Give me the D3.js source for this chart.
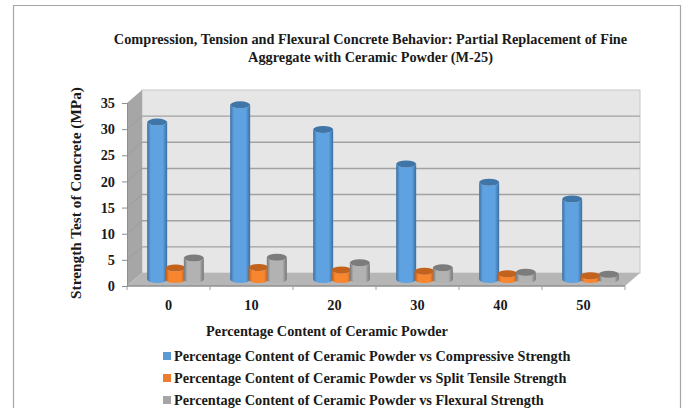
<!DOCTYPE html>
<html>
<head>
<meta charset="utf-8">
<script src="https://cdn.jsdelivr.net/npm/d3@7"></script>
<style>
html, body { margin: 0; padding: 0; background: #fff; }
svg { display: block; }
text { font-family: "Liberation Serif", serif; font-weight: bold; fill: #1a1a1a; }
</style>
</head>
<body>
<div id="chart"></div>
<script>
var categories = [ "0", "10", "20", "30", "40", "50" ];
var compressive = [ 30.1, 33.4, 28.7, 22.1, 18.6, 15.4 ];
var splitTensile = [ 2.2, 2.3, 1.8, 1.6, 1.1, 0.7 ];
var flexural = [ 4.1, 4.25, 3.2, 2.25, 1.4, 1.0 ];
var yTicks = [ 0, 5, 10, 15, 20, 25, 30, 35 ];
var seriesNames = [
	"Percentage Content of Ceramic Powder vs Compressive Strength",
	"Percentage Content of Ceramic Powder vs Split Tensile Strength",
	"Percentage Content of Ceramic Powder vs Flexural Strength"
];
var titleLines = [
	"Compression, Tension and Flexural Concrete Behavior: Partial Replacement of Fine",
	"Aggregate with Ceramic Powder (M-25)"
];
var xTitle = "Percentage Content of Ceramic Powder";
var yTitle = "Strength Test of Concrete (MPa)";

var colors = [
	{ light: "#5ea2e2", mid: "#5b9bd5", dark: "#3b6f9f", top: "#3f75a8" },
	{ light: "#f8862f", mid: "#ed7d31", dark: "#b9581a", top: "#c2621f" },
	{ light: "#b2b2b2", mid: "#a5a5a5", dark: "#757575", top: "#7c7c7c" }
];

var width = 685, height = 408;
// depth offset of the back wall
var depthX = 15, depthY = -13;

var svg = d3.select( "#chart" )
	.append( "svg" )
	.attr( "width", width )
	.attr( "height", height );

var defs = svg.append( "defs" );
colors.forEach( function( c, i ) {
	var grad = defs.append( "linearGradient" ).attr( "id", "cyl" + i );
	grad.append( "stop" ).attr( "offset", "0%" ).attr( "stop-color", c.dark );
	grad.append( "stop" ).attr( "offset", "18%" ).attr( "stop-color", c.light );
	grad.append( "stop" ).attr( "offset", "78%" ).attr( "stop-color", c.light );
	grad.append( "stop" ).attr( "offset", "100%" ).attr( "stop-color", c.dark );
} );
defs.append( "filter" )
	.attr( "id", "soft" )
	.append( "feGaussianBlur" )
	.attr( "stdDeviation", 0.4 );

// chart frame, open at the bottom
svg.append( "path" )
	.attr( "d", "M13.5,408V5.5H680.5V408" )
	.attr( "fill", "none" )
	.attr( "stroke", "#a6a6a6" )
	.attr( "stroke-width", 1.2 );

var x = d3.scaleBand()
	.domain( categories )
	.range( [ 127, 625 ] );

var inner = d3.scaleBand()
	.domain( [ 0, 1, 2 ] )
	.range( [ -27.5, 27.5 ] );

var y = d3.scaleLinear()
	.domain( [ 0, 35 ] )
	.range( [ 286, 103 ] );

// back wall
var backLeft = x.range()[ 0 ] + depthX, backRight = x.range()[ 1 ] + depthX;
svg.append( "rect" )
	.attr( "x", backLeft )
	.attr( "y", y( 35 ) + depthY )
	.attr( "width", backRight - backLeft )
	.attr( "height", y( 0 ) - y( 35 ) )
	.attr( "fill", "#e6e6e6" )
	.attr( "stroke", "#c8c8c8" );

// side wall
svg.append( "path" )
	.attr( "d", "M" + x.range()[ 0 ] + "," + y( 0 ) + "L" + x.range()[ 0 ] + "," + y( 35 ) +
		"L" + backLeft + "," + ( y( 35 ) + depthY ) + "L" + backLeft + "," + ( y( 0 ) + depthY ) + "Z" )
	.attr( "fill", "#a6a6a6" );

// floor
svg.append( "path" )
	.attr( "d", "M" + x.range()[ 0 ] + "," + y( 0 ) + "L" + backLeft + "," + ( y( 0 ) + depthY ) +
		"L" + backRight + "," + ( y( 0 ) + depthY ) + "L" + x.range()[ 1 ] + "," + y( 0 ) + "Z" )
	.attr( "fill", "#b6b6b6" );

// gridlines on back wall
svg.selectAll( ".grid" )
	.data( yTicks.slice( 1, -1 ) )
	.enter()
	.append( "line" )
	.attr( "class", "grid" )
	.attr( "x1", backLeft )
	.attr( "x2", backRight )
	.attr( "y1", function( d ) { return y( d ) + depthY; } )
	.attr( "y2", function( d ) { return y( d ) + depthY; } )
	.attr( "stroke", "#a2a2a2" )
	.attr( "stroke-width", 1.4 );

// diagonal grid edges on the side wall
svg.selectAll( ".sideGrid" )
	.data( yTicks.slice( 1, -1 ) )
	.enter()
	.append( "line" )
	.attr( "class", "sideGrid" )
	.attr( "x1", x.range()[ 0 ] )
	.attr( "x2", backLeft )
	.attr( "y1", function( d ) { return y( d ); } )
	.attr( "y2", function( d ) { return y( d ) + depthY; } )
	.attr( "stroke", "#9c9c9c" );

// floor front edge
svg.append( "line" )
	.attr( "x1", x.range()[ 0 ] )
	.attr( "x2", x.range()[ 1 ] )
	.attr( "y1", y( 0 ) )
	.attr( "y2", y( 0 ) )
	.attr( "stroke", "#8f8f8f" )
	.attr( "stroke-width", 1.5 );

// axes
var xAxis = d3.axisBottom( x ).tickSize( 0 ).tickPadding( 14 );
var gx = svg.append( "g" )
	.attr( "transform", "translate(0," + y( 0 ) + ")" )
	.call( xAxis );
gx.select( ".domain" ).remove();
gx.selectAll( "text" ).style( "font-size", "14.3px" );

svg.selectAll( ".xTick" )
	.data( x.domain().map( function( d ) { return x( d ); } ).concat( x.range()[ 1 ] ) )
	.enter()
	.append( "line" )
	.attr( "class", "xTick" )
	.attr( "x1", function( d ) { return d; } )
	.attr( "x2", function( d ) { return d; } )
	.attr( "y1", y( 0 ) )
	.attr( "y2", y( 0 ) + 4 )
	.attr( "stroke", "#a0a0a0" );

var yAxis = d3.axisLeft( y ).tickValues( yTicks ).tickSize( 5 ).tickPadding( 7 );
var gy = svg.append( "g" )
	.attr( "transform", "translate(" + x.range()[ 0 ] + ",0)" )
	.call( yAxis );
gy.select( ".domain" ).attr( "stroke", "#8f8f8f" );
gy.selectAll( "line" ).attr( "stroke", "#8f8f8f" );
gy.selectAll( "text" ).style( "font-size", "14.3px" );

// cylinders
var rx = 10, ry = 3.5;
var baseShift = { x: 7, y: -6.5 };

function cylinder ( d ) {
	var bottom = y( 0 ) + baseShift.y, top = y( d.value ) + baseShift.y;
	return "M" + ( d.cx - rx ) + "," + top +
		"L" + ( d.cx - rx ) + "," + bottom +
		"A" + rx + "," + ry + " 0 0 0 " + ( d.cx + rx ) + "," + bottom +
		"L" + ( d.cx + rx ) + "," + top +
		"A" + rx + "," + ry + " 0 0 1 " + ( d.cx - rx ) + "," + top + "Z";
}

var allSeries = [ compressive, splitTensile, flexural ];
var bars = [];
categories.forEach( function( c, i ) {
	allSeries.forEach( function( s, j ) {
		bars.push( {
			series: j,
			value: s[ i ],
			cx: x( c ) + x.bandwidth() / 2 + baseShift.x + inner( j ) + inner.bandwidth() / 2
		} );
	} );
} );

var cyl = svg.selectAll( ".cyl" )
	.data( bars )
	.enter()
	.append( "g" )
	.attr( "class", "cyl" )
	.attr( "filter", "url(#soft)" );

cyl.append( "path" )
	.attr( "d", cylinder )
	.attr( "fill", function( d ) { return "url(#cyl" + d.series + ")"; } );

cyl.append( "ellipse" )
	.attr( "cx", function( d ) { return d.cx; } )
	.attr( "cy", function( d ) { return y( d.value ) + baseShift.y; } )
	.attr( "rx", rx )
	.attr( "ry", ry )
	.attr( "fill", function( d ) { return colors[ d.series ].top; } );

// title
svg.selectAll( ".title" )
	.data( titleLines )
	.enter()
	.append( "text" )
	.attr( "class", "title" )
	.attr( "x", 370.5 )
	.attr( "y", function( d, i ) { return 44 + i * 18; } )
	.attr( "text-anchor", "middle" )
	.style( "font-size", "14.3px" )
	.text( function( d ) { return d; } );

// axis titles
svg.append( "text" )
	.attr( "x", 327 )
	.attr( "y", 336 )
	.attr( "text-anchor", "middle" )
	.style( "font-size", "14.3px" )
	.text( xTitle );

svg.append( "text" )
	.attr( "transform", "translate(81,193) rotate(-90)" )
	.attr( "text-anchor", "middle" )
	.style( "font-size", "15.3px" )
	.text( yTitle );

// legend
var legend = svg.selectAll( ".legend" )
	.data( seriesNames )
	.enter()
	.append( "g" )
	.attr( "class", "legend" )
	.attr( "transform", function( d, i ) { return "translate(163," + ( 356 + i * 22 ) + ")"; } );

legend.append( "rect" )
	.attr( "y", -4 )
	.attr( "width", 8 )
	.attr( "height", 8 )
	.attr( "fill", function( d, i ) { return colors[ i ].mid; } );

legend.append( "text" )
	.attr( "x", 11 )
	.attr( "y", 4.5 )
	.style( "font-size", "14.3px" )
	.text( function( d ) { return d; } );
</script>
</body>
</html>
